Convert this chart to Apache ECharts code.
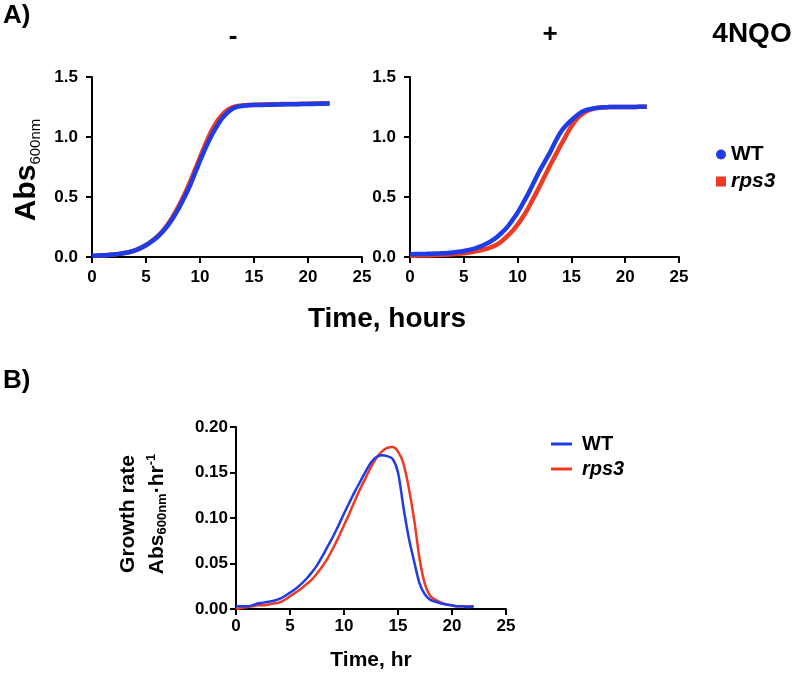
<!DOCTYPE html>
<html>
<head>
<meta charset="utf-8">
<script src="https://cdn.jsdelivr.net/npm/echarts@6/dist/echarts.min.js"></script>
<style>html,body{margin:0;padding:0;background:#fff}#c{width:796px;height:675px}</style>
</head>
<body>
<div id="c"></div>
<script>
// ---- Data ----
const hours = [0,0.5,1,1.5,2,2.5,3,3.5,4,4.5,5,5.5,6,6.5,7,7.5,8,8.5,9,9.5,10,10.5,11,11.5,12,12.5,13,13.5,14,14.5,15,15.5,16,16.5,17,17.5,18,18.5,19,19.5,20,20.5,21,21.5,22];

// Panel A, "-" 4NQO : Abs600nm
const absMinusWT   = [0.010,0.012,0.014,0.017,0.021,0.026,0.033,0.042,0.055,0.074,0.098,0.128,0.163,0.207,0.260,0.325,0.400,0.487,0.580,0.690,0.800,0.905,1.000,1.080,1.150,1.200,1.235,1.253,1.260,1.264,1.266,1.267,1.268,1.269,1.270,1.271,1.272,1.272,1.273,1.274,1.275,1.276,1.277,1.278,1.279];
const absMinusRps3 = [0.010,0.012,0.014,0.017,0.021,0.026,0.033,0.042,0.056,0.076,0.100,0.131,0.168,0.213,0.270,0.340,0.420,0.510,0.610,0.720,0.830,0.940,1.040,1.120,1.180,1.222,1.248,1.259,1.264,1.267,1.269,1.270,1.271,1.272,1.273,1.274,1.275,1.275,1.276,1.277,1.278,1.279,1.280,1.281,1.282];

// Panel A, "+" 4NQO : Abs600nm
const absPlusWT   = [0.023,0.024,0.025,0.026,0.027,0.029,0.031,0.034,0.038,0.043,0.050,0.059,0.070,0.086,0.106,0.130,0.160,0.200,0.245,0.305,0.370,0.448,0.530,0.620,0.710,0.790,0.870,0.960,1.040,1.095,1.140,1.180,1.210,1.228,1.238,1.244,1.248,1.249,1.250,1.250,1.250,1.251,1.251,1.252,1.252];
const absPlusRps3 = [0.010,0.011,0.012,0.013,0.014,0.016,0.018,0.020,0.023,0.027,0.032,0.038,0.045,0.054,0.065,0.080,0.100,0.130,0.170,0.215,0.270,0.335,0.410,0.495,0.580,0.670,0.760,0.845,0.930,1.012,1.090,1.150,1.190,1.218,1.235,1.244,1.248,1.249,1.250,1.250,1.250,1.251,1.251,1.252,1.252];

// Panel B : growth rate
const rateWT   = [0.003,0.003,0.003,0.004,0.006,0.007,0.008,0.009,0.011,0.014,0.018,0.022,0.027,0.033,0.040,0.048,0.058,0.069,0.080,0.092,0.105,0.117,0.129,0.140,0.151,0.161,0.167,0.169,0.168,0.165,0.150,0.112,0.078,0.052,0.028,0.016,0.010,0.008,0.006,0.005,0.004,0.003,0.003,0.002,0.003];
const rateRps3 = [0.000,0.001,0.002,0.003,0.004,0.004,0.005,0.006,0.007,0.010,0.014,0.018,0.022,0.027,0.032,0.039,0.047,0.056,0.067,0.079,0.092,0.105,0.119,0.132,0.144,0.156,0.166,0.173,0.177,0.178,0.173,0.160,0.133,0.098,0.055,0.027,0.014,0.010,0.007,0.005,0.004,0.003,0.003,0.003,0.003];

const seriesNames = ['WT','rps3'];
const xTicks = {min:0, max:25, interval:5};
const yTicksA = {min:0, max:1.5, interval:0.5};
const yTicksB = {min:0, max:0.20, interval:0.05};

// ---- Styling ----
const BLUE = '#1e3ce8', RED = '#ee3a22';
const FONT = 'Liberation Sans, Arial, Helvetica, sans-serif';
const pair = (xs, ys) => xs.map((x, i) => [x, ys[i]]);

function xAxisCfg(gi, margin){
  return {type:'value', gridIndex:gi, min:xTicks.min, max:xTicks.max, interval:xTicks.interval,
    axisLine:{show:true, lineStyle:{color:'#000', width:2}},
    axisTick:{show:true, length:6, lineStyle:{color:'#000', width:2}},
    splitLine:{show:false},
    axisLabel:{color:'#000', fontSize:17, fontWeight:'bold', fontFamily:FONT, margin:margin}};
}
function yAxisCfg(gi, t, dec, margin){
  return {type:'value', gridIndex:gi, min:t.min, max:t.max, interval:t.interval,
    axisLine:{show:true, onZero:false, lineStyle:{color:'#000', width:2}},
    axisTick:{show:true, length:6, lineStyle:{color:'#000', width:2}},
    splitLine:{show:false},
    axisLabel:{color:'#000', fontSize:17, fontWeight:'bold', fontFamily:FONT, margin:margin,
      formatter: v => v.toFixed(dec)}};
}
function lineSeries(name, xi, yi, data, color, width){
  return {name:name, type:'line', xAxisIndex:xi, yAxisIndex:yi, data:data, showSymbol:false, symbol:'none',
    smooth:0.3, itemStyle:{color:color}, lineStyle:{color:color, width:width}, animation:false, z: name==='WT'?3:2};
}
const legendRich = {
  n:{fontSize:21, fontWeight:'bold', fontFamily:FONT, color:'#000'},
  i:{fontSize:21, fontWeight:'bold', fontStyle:'italic', fontFamily:FONT, color:'#000'}
};
const legendRichB = {
  n:{fontSize:20, fontWeight:'bold', fontFamily:FONT, color:'#000', padding:[0,0,0,5]},
  i:{fontSize:20, fontWeight:'bold', fontStyle:'italic', fontFamily:FONT, color:'#000', padding:[0,0,0,5]}
};
const legendFmt = n => n === 'rps3' ? '{i|' + n + '}' : '{n|' + n + '}';

function txt(x, y, text, size, extra){
  return Object.assign({type:'text', x:x, y:y, silent:true,
    style:Object.assign({text:text, fontSize:size, fontWeight:'bold', fontFamily:FONT, fill:'#000',
      align:'center', verticalAlign:'middle'}, extra && extra.style || {})}, extra && extra.el || {});
}

const option = {
  animation:false,
  backgroundColor:'#fff',
  grid:[
    {left:92, top:77, width:270, height:180},
    {left:410, top:77, width:269, height:180},
    {left:236, top:427, width:270, height:182}
  ],
  xAxis:[xAxisCfg(0,12), xAxisCfg(1,12), xAxisCfg(2,9)],
  yAxis:[yAxisCfg(0,yTicksA,1,14), yAxisCfg(1,yTicksA,1,14), yAxisCfg(2,yTicksB,2,8)],
  legend:[
    {orient:'vertical', left:711, top:139, itemWidth:10, itemHeight:10, itemGap:6,
      data:[{name:seriesNames[0], icon:'circle'}, {name:seriesNames[1], icon:'rect'}],
      formatter:legendFmt, textStyle:{rich:legendRich}, selectedMode:false},
    {orient:'vertical', left:546, top:429, itemWidth:21, itemHeight:3, itemGap:5,
      data:[{name:seriesNames[0], icon:'rect'}, {name:seriesNames[1], icon:'rect'}],
      formatter:legendFmt, textStyle:{rich:legendRichB}, selectedMode:false}
  ],
  series:[
    lineSeries('rps3', 0, 0, pair(hours, absMinusRps3), RED, 4.5),
    lineSeries('WT',   0, 0, pair(hours, absMinusWT),   BLUE, 4.5),
    lineSeries('rps3', 1, 1, pair(hours, absPlusRps3),  RED, 4.5),
    lineSeries('WT',   1, 1, pair(hours, absPlusWT),    BLUE, 4.5),
    lineSeries('WT',   2, 2, pair(hours, rateWT),       BLUE, 2.5),
    lineSeries('rps3', 2, 2, pair(hours, rateRps3),     RED, 2.5)
  ],
  graphic:[
    txt(3, 16, 'A)', 26, {style:{align:'left'}}),
    txt(233, 37, '-', 26),
    txt(550, 35, '+', 26),
    txt(752, 34, '4NQO', 28),
    txt(387, 319, 'Time, hours', 28),
    txt(27, 170, '{a|Abs}{s|600nm}', 28, {el:{rotation:Math.PI/2}, style:{rich:{
      a:{fontSize:30, fontWeight:'bold', fontFamily:FONT, lineHeight:32},
      s:{fontSize:15, fontWeight:'normal', fontFamily:FONT, lineHeight:32, verticalAlign:'bottom'}}}}),
    txt(3, 381, 'B)', 26, {style:{align:'left'}}),
    txt(128, 514, 'Growth rate', 21, {el:{rotation:Math.PI/2}}),
    txt(157, 514, '{a|Abs}{s|600nm}{a|\u00B7hr}{p|-1}', 21, {el:{rotation:Math.PI/2}, style:{rich:{
      a:{fontSize:21, fontWeight:'bold', fontFamily:FONT, lineHeight:24},
      s:{fontSize:13, fontWeight:'bold', fontFamily:FONT, lineHeight:24, verticalAlign:'bottom'},
      p:{fontSize:13, fontWeight:'bold', fontFamily:FONT, lineHeight:24, verticalAlign:'top'}}}}),
    txt(371, 660, 'Time, hr', 21)
  ]
};
const chart = echarts.init(document.getElementById('c'), null, {renderer:'canvas'});
chart.setOption(option);
</script>
</body>
</html>
